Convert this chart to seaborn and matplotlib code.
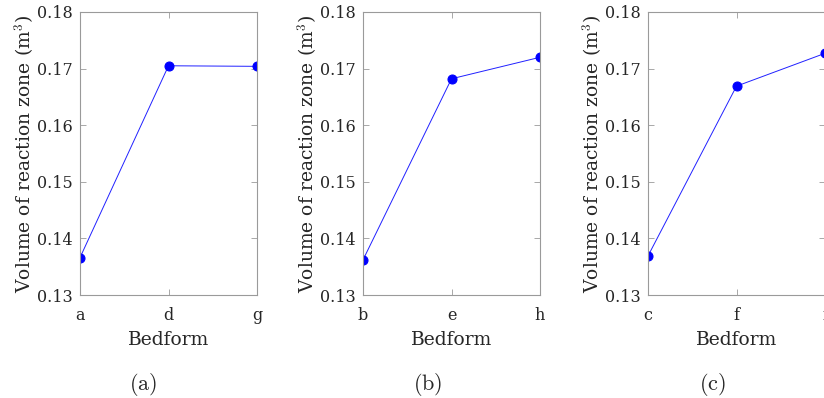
import matplotlib
matplotlib.use("Agg")
import matplotlib.pyplot as plt
import seaborn as sns
import pandas as pd

# values, one panel per bedform group
panel_a_labels = ["a", "d", "g"]
panel_a_values = [0.1366, 0.1705, 0.1704]
panel_b_labels = ["b", "e", "h"]
panel_b_values = [0.1362, 0.1682, 0.1720]
panel_c_labels = ["c", "f", "i"]
panel_c_values = [0.1369, 0.1669, 0.1727]
captions = ["(a)", "(b)", "(c)"]
y_ticks = [0.13, 0.14, 0.15, 0.16, 0.17, 0.18]

sns.set_theme(style="white")
plt.rcParams["font.family"] = ["DejaVu Serif"]
plt.rcParams["mathtext.fontset"] = "cm"

fig = plt.figure(figsize=(8.24, 3.98), dpi=100)

# (values, axes left edge in px, caption centre in px)
panels = [
    (panel_a_labels, panel_a_values, 80, 143),
    (panel_b_labels, panel_b_values, 363, 428),
    (panel_c_labels, panel_c_values, 648, 712),
]

text_col = "#262626"
spine_col = "#9a9a9a"

for (labels, values, left_px, cap_px), cap in zip(panels, captions):
    ax = fig.add_axes([left_px / 824, 103 / 398, 177 / 824, 283 / 398])
    df = pd.DataFrame({"Bedform": labels, "Volume": values})
    sns.lineplot(data=df, x="Bedform", y="Volume", ax=ax, color="#2020ff",
                 linewidth=0.7, marker="o", markersize=6.5,
                 markeredgecolor="#0000ff", markerfacecolor="#0000ff")
    ax.set_xlim(0, 2)
    ax.set_ylim(0.13, 0.18)
    ax.set_yticks(y_ticks)
    ax.set_yticklabels([f"{v:.2f}" for v in y_ticks])
    ax.set_xlabel("Bedform", fontsize=13.5, color=text_col, labelpad=5)
    ax.set_ylabel(r"Volume of reaction zone (m$^3$)", fontsize=13.5,
                  color=text_col, labelpad=1)
    ax.tick_params(direction="in", length=4, width=0.6, color=spine_col,
                   labelsize=11.5, labelcolor=text_col,
                   top=True, right=True, bottom=True, left=True)
    ax.tick_params(axis="x", pad=9)
    ax.tick_params(axis="y", pad=5)
    for sp in ax.spines.values():
        sp.set_color(spine_col)
        sp.set_linewidth(0.8)
        sp.set_visible(True)
    ax.set_facecolor("white")
    fig.text(cap_px / 824, 1 - 384 / 398, r"$\mathrm{" + cap + "}$", ha="center",
             va="center", fontsize=16, color=text_col)

fig.savefig("out.png", dpi=100, facecolor="white")
